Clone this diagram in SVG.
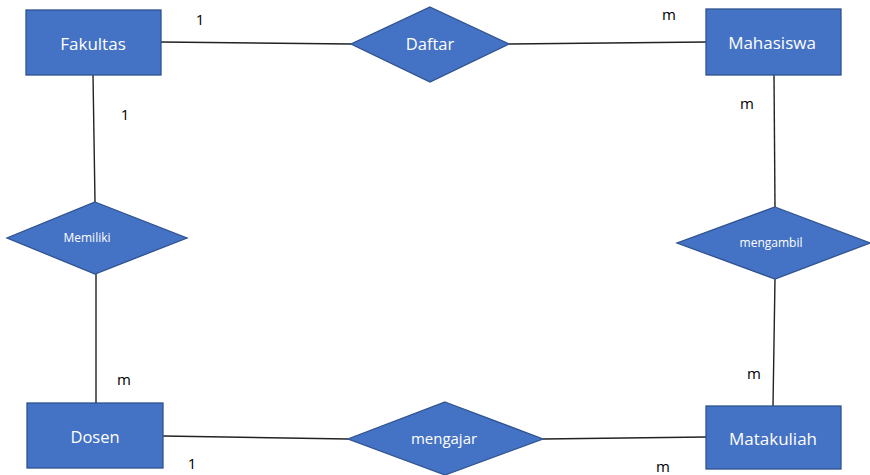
<svg xmlns="http://www.w3.org/2000/svg" width="870" height="475" viewBox="0 0 870 475">
<style>
.ent{fill:#4472C4;stroke:#2F528F;stroke-width:1.3}
.rel{fill:#4472C4;stroke:#2F528F;stroke-width:1.3}
.lbl{fill:#FFFFFF;font-family:"Open Sans","Liberation Sans",sans-serif;text-anchor:middle;dominant-baseline:central}
.card{fill:#000000;font-family:"Open Sans","Liberation Sans",sans-serif;font-size:15px;text-anchor:middle;dominant-baseline:central}
.conn line{stroke:#222222;stroke-width:1.4}
</style>
<rect width="870" height="475" fill="#FFFFFF"/>
<g id="connectors" class="conn">
<line x1="161" y1="42" x2="351" y2="44"/>
<line x1="509" y1="44" x2="706" y2="42"/>
<line x1="93" y1="75" x2="95" y2="202"/>
<line x1="96" y1="274" x2="96" y2="403"/>
<line x1="774" y1="75" x2="775" y2="207"/>
<line x1="775" y1="279" x2="773" y2="406"/>
<line x1="163" y1="436" x2="348" y2="439"/>
<line x1="543" y1="439" x2="706" y2="437"/>
</g>
<g id="fakultas"><rect class="ent" x="26" y="10" width="135" height="65"/><text class="lbl" x="93" y="43" font-size="17">Fakultas</text></g>
<g id="mahasiswa"><rect class="ent" x="706" y="9" width="135" height="66"/><text class="lbl" x="772" y="42" font-size="17">Mahasiswa</text></g>
<g id="dosen"><rect class="ent" x="27" y="403" width="136" height="65"/><text class="lbl" x="95" y="436" font-size="16.5">Dosen</text></g>
<g id="matakuliah"><rect class="ent" x="706" y="406" width="135" height="63"/><text class="lbl" x="773" y="438" font-size="17">Matakuliah</text></g>
<g id="daftar"><polygon class="rel" points="430,7 509,44 430,82 351,44"/><text class="lbl" x="430" y="43" font-size="16.5">Daftar</text></g>
<g id="memiliki"><polygon class="rel" points="95,202 187,238 95,274 7,238"/><text class="lbl" x="87" y="237" font-size="12">Memiliki</text></g>
<g id="mengambil"><polygon class="rel" points="775,207 870,243 775,279 677,243"/><text class="lbl" x="771" y="242" font-size="12">mengambil</text></g>
<g id="mengajar"><polygon class="rel" points="445,402 543,439 445,475 348,439"/><text class="lbl" x="444" y="438" font-size="15">mengajar</text></g>
<g id="cardinalities">
<text class="card" x="200" y="19">1</text>
<text class="card" x="125" y="114">1</text>
<text class="card" x="669" y="14">m</text>
<text class="card" x="747" y="103">m</text>
<text class="card" x="124" y="379">m</text>
<text class="card" x="192" y="463">1</text>
<text class="card" x="754" y="373">m</text>
<text class="card" x="663" y="466">m</text>
</g>
</svg>
